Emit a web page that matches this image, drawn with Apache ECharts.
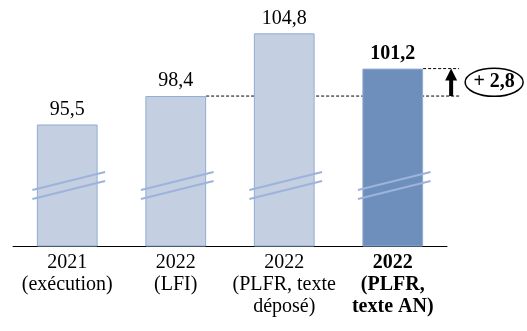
<!DOCTYPE html>
<html><head><meta charset="utf-8">
<script src="https://cdn.jsdelivr.net/npm/echarts@6/dist/echarts.min.js"></script>
<style>html,body{margin:0;padding:0;background:#fff}#c{width:527px;height:331px}</style>
</head><body><div id="c"></div>
<script>
const categories = ['2021\n(exécution)', '2022\n(LFI)', '2022\n(PLFR, texte\ndéposé)', '2022\n(PLFR,\ntexte AN)'];
const values = [95.5, 98.4, 104.8, 101.2];
const highlightIndex = 3;
const refIndex = 1;
const yMin = 83.1, yMax = 108.2;

const FONT = 'Liberation Serif';
const light = '#C4CFE2', dark = '#6E8EBC', border = '#93ACD3', breakColor = '#9DB3DA';
const fmt = v => v.toFixed(1).replace('.', ',');

const chart = echarts.init(document.getElementById('c'), null, {renderer: 'canvas'});
const BAR_PCT = 0.56;
chart.setOption({
  animation: false,
  grid: {left: 13, right: 80, top: 0, bottom: 85},
  xAxis: {
    type: 'category', data: categories,
    axisLine: {lineStyle: {color: '#000', width: 1}},
    axisTick: {show: false},
    axisLabel: {
      margin: 6, interval: 0,
      formatter: (v, i) => i === highlightIndex ? v.split('\n').map(s => '{b|' + s + '}').join('\n') : v,
      fontFamily: FONT, fontSize: 20, color: '#000', lineHeight: 22,
      rich: {b: {fontFamily: FONT, fontSize: 20, fontWeight: 'bold', color: '#000', lineHeight: 22}}
    }
  },
  yAxis: {type: 'value', min: yMin, max: yMax, show: false, splitLine: {show: false}},
  series: [{
    type: 'bar', barWidth: (BAR_PCT * 100) + '%',
    data: values.map((v, i) => ({
      value: v,
      itemStyle: {color: i === highlightIndex ? dark : light, borderColor: border, borderWidth: 1},
      label: {fontWeight: i === highlightIndex ? 'bold' : 'normal'}
    })),
    label: {show: true, position: 'top', distance: 5, fontFamily: FONT, fontSize: 20, color: '#000',
      formatter: p => fmt(p.value)}
  }, {
    type: 'custom', z: 5, silent: true,
    data: values.map((v, i) => [i, yMin]),
    renderItem: (params, api) => {
      const base = api.coord([api.value(0), yMin]);
      const cw = api.size([1, 0])[0];
      const cx = base[0] + 1.5, hw = cw * 0.335;
      const mk = off => ({type: 'line', shape: {x1: cx - hw, y1: base[1] - off + 9, x2: cx + hw, y2: base[1] - off - 9},
        style: {stroke: breakColor, lineWidth: 2}});
      return {type: 'group', children: [mk(65), mk(56)]};
    }
  }]
});

const pRef = chart.convertToPixel({gridIndex: 0}, [refIndex, values[refIndex]]);
const pHi = chart.convertToPixel({gridIndex: 0}, [highlightIndex, values[highlightIndex]]);
const cw = chart.convertToPixel({gridIndex: 0}, [1, yMin])[0] - chart.convertToPixel({gridIndex: 0}, [0, yMin])[0];
const half = cw * BAR_PCT / 2;
const right = pHi[0] + half;
const endX = right + 36;
const ax = right + 28;
const midY = (pRef[1] + pHi[1]) / 2;
const diff = values[highlightIndex] - values[refIndex];
chart.setOption({
  graphic: [
    {type: 'line', shape: {x1: pRef[0] + half, y1: pRef[1], x2: endX, y2: pRef[1]}, style: {stroke: '#000', lineWidth: 1, lineDash: [3, 2]}},
    {type: 'line', shape: {x1: right, y1: pHi[1], x2: endX, y2: pHi[1]}, style: {stroke: '#000', lineWidth: 1, lineDash: [3, 2]}},
    {type: 'rect', shape: {x: ax - 2, y: pHi[1] + 11, width: 4, height: pRef[1] - pHi[1] - 11}, style: {fill: '#000'}},
    {type: 'polygon', shape: {points: [[ax, pHi[1]], [ax - 6, pHi[1] + 12], [ax + 6, pHi[1] + 12]]}, style: {fill: '#000'}},
    {type: 'ellipse', shape: {cx: right + 71, cy: midY, rx: 29, ry: 14}, style: {fill: '#fff', stroke: '#000', lineWidth: 1.5}},
    {type: 'text', x: right + 71, y: midY, style: {text: '+ ' + fmt(diff), fontFamily: FONT, fontSize: 20, fontWeight: 'bold', fill: '#000', align: 'center', verticalAlign: 'middle'}}
  ]
});
</script></body></html>
